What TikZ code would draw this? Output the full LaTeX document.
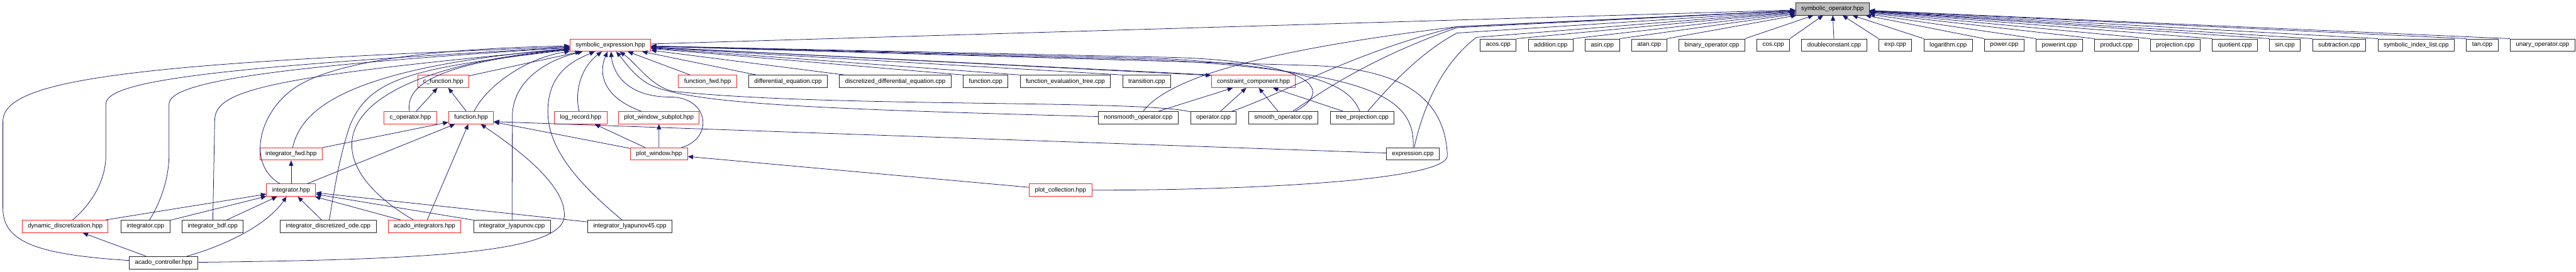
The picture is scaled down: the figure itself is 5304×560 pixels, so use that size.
\documentclass[tikz,border=0pt]{standalone}
\usepackage{fontspec}
\setmainfont{Liberation Sans}
\usepackage{xcolor}
\usepackage{tikz}
\usetikzlibrary{positioning,arrows.meta}
\definecolor{edgeblue}{HTML}{191970}
\definecolor{boxred}{HTML}{FF2020}

\begin{document}
\begin{tikzpicture}[>={Triangle[length=11pt,width=9pt]}, x=1pt, y=-1pt,
  every node/.style={font=\fontsize{12.75}{14}\selectfont, inner xsep=11.5pt, inner ysep=0pt, minimum height=25.5pt, line width=1.2pt},
  cppbox/.style={draw=black!85},
  hppbox/.style={draw=boxred},
  rootbox/.style={draw=black!85, fill=black!25},
  incl/.style={->, edgeblue, line width=1pt}]
  \useasboundingbox (0,0) rectangle (5304,560);

  \node[rootbox] (SO) at (3773,18.3) {symbolic\_operator.hpp};

  \node[hppbox] (SE) at (1256.8,93) {symbolic\_expression.hpp};
  \node[cppbox] (cacos) at (3084.8,93) {acos.cpp};
  \node[cppbox, right=24pt of cacos] (caddn) {addition.cpp};
  \node[cppbox, right=24pt of caddn] (casin) {asin.cpp};
  \node[cppbox, right=24pt of casin] (catan) {atan.cpp};
  \node[cppbox, right=24pt of catan] (cbinop) {binary\_operator.cpp};
  \node[cppbox, right=24pt of cbinop] (ccos) {cos.cpp};
  \node[cppbox, right=24pt of ccos] (cdconst) {doubleconstant.cpp};
  \node[cppbox, right=24pt of cdconst] (cexp) {exp.cpp};
  \node[cppbox, right=24pt of cexp] (clog) {logarithm.cpp};
  \node[cppbox, right=24pt of clog] (cpow) {power.cpp};
  \node[cppbox, right=24pt of cpow] (cpowint) {powerint.cpp};
  \node[cppbox, right=24pt of cpowint] (cprod) {product.cpp};
  \node[cppbox, right=24pt of cprod] (cproj) {projection.cpp};
  \node[cppbox, right=24pt of cproj] (cquot) {quotient.cpp};
  \node[cppbox, right=24pt of cquot] (csin) {sin.cpp};
  \node[cppbox, right=24pt of csin] (csub) {subtraction.cpp};
  \node[cppbox, right=24pt of csub] (csil) {symbolic\_index\_list.cpp};
  \node[cppbox, right=24pt of csil] (ctan) {tan.cpp};
  \node[cppbox, right=24pt of ctan] (cunop) {unary\_operator.cpp};

  \node[hppbox] (CF) at (912.8,167.8) {c\_function.hpp};
  \node[hppbox] (FF) at (1456.8,167.8) {function\_fwd.hpp};
  \node[cppbox, right=24pt of FF] (DE) {differential\_equation.cpp};
  \node[cppbox, right=24pt of DE] (DDE) {discretized\_differential\_equation.cpp};
  \node[cppbox, right=24pt of DDE] (FC) {function.cpp};
  \node[cppbox, right=24pt of FC] (FET) {function\_evaluation\_tree.cpp};
  \node[cppbox, right=24pt of FET] (TR) {transition.cpp};
  \node[hppbox] (CC) at (2580.8,167.8) {constraint\_component.hpp};

  \node[hppbox] (COP) at (845,242.5) {c\_operator.hpp};
  \node[hppbox] (FH) at (970,242.5) {function.hpp};
  \node[hppbox] (LR) at (1195.6,242.5) {log\_record.hpp};
  \node[hppbox] (PWS) at (1356.7,242.5) {plot\_window\_subplot.hpp};
  \node[cppbox] (NS) at (2343.5,242.5) {nonsmooth\_operator.cpp};
  \node[cppbox] (OP) at (2498.4,242.5) {operator.cpp};
  \node[cppbox] (SM) at (2642.3,242.5) {smooth\_operator.cpp};
  \node[cppbox] (TP) at (2804.9,242.5) {tree\_projection.cpp};

  \node[hppbox] (IF) at (599.4,317.3) {integrator\_fwd.hpp};
  \node[hppbox] (PW) at (1356.9,317.3) {plot\_window.hpp};
  \node[cppbox] (EX) at (2909,317.3) {expression.cpp};

  \node[hppbox] (IH) at (599.4,392) {integrator.hpp};
  \node[hppbox] (PC) at (2183.7,392) {plot\_collection.hpp};

  \node[hppbox] (DD) at (134.2,466.7) {dynamic\_discretization.hpp};
  \node[cppbox] (IC) at (299.5,466.7) {integrator.cpp};
  \node[cppbox] (IB) at (438,466.7) {integrator\_bdf.cpp};
  \node[cppbox] (IDO) at (675.8,466.7) {integrator\_discretized\_ode.cpp};
  \node[hppbox] (AI) at (874,466.7) {acado\_integrators.hpp};
  \node[cppbox] (IL) at (1054.2,466.7) {integrator\_lyapunov.cpp};
  \node[cppbox] (IL45) at (1296.9,466.7) {integrator\_lyapunov45.cpp};

  \node[cppbox] (AC) at (337,541.5) {acado\_controller.hpp};

  \draw[incl] (SE) -- (SO);
  \draw[incl] (cacos.north east) -- (SO);
  \draw[incl] (caddn.north east) -- (SO);
  \draw[incl] (casin.north east) -- (SO);
  \draw[incl] (catan.north east) -- (SO);
  \draw[incl] (cbinop.north east) -- (SO);
  \draw[incl] (ccos.north east) -- (SO);
  \draw[incl] (cdconst) -- (SO);
  \draw[incl] (cexp.north west) -- (SO);
  \draw[incl] (clog.north west) -- (SO);
  \draw[incl] (cpow.north west) -- (SO);
  \draw[incl] (cpowint.north west) -- (SO);
  \draw[incl] (cprod.north west) -- (SO);
  \draw[incl] (cproj.north west) -- (SO);
  \draw[incl] (cquot.north west) -- (SO);
  \draw[incl] (csin.north west) -- (SO);
  \draw[incl] (csub.north west) -- (SO);
  \draw[incl] (csil.north west) -- (SO);
  \draw[incl] (ctan.north west) -- (SO);
  \draw[incl] (cunop.north west) -- (SO);
  \draw[incl] (NS) .. controls (2400,170) and (2550,110) .. (3000,55) -- (SO);
  \draw[incl] (OP) .. controls (2650,190) and (2780,110) .. (3000,55) -- (SO);
  \draw[incl] (SM) .. controls (2720,190) and (2820,120) .. (3000,57) -- (SO);
  \draw[incl] (TP) .. controls (2850,190) and (2920,110) .. (3000,68) -- (SO);
  \draw[incl] (EX) .. controls (2930,220) and (2970,130) .. (3040,77) -- (SO);

  \draw[incl] (AC) .. controls (80,525) and (6,500) .. (6,430) -- (6,250) .. controls (6,160) and (300,130) .. (SE);
  \draw[incl] (DD) .. controls (200,410) and (218,360) .. (218,320) -- (218,215) .. controls (218,170) and (400,140) .. (SE);
  \draw[incl] (IC) .. controls (335,410) and (348,360) .. (348,320) -- (348,215) .. controls (348,175) and (500,140) .. (SE);
  \draw[incl] (IB) -- (442,250) .. controls (442,190) and (520,160) .. (SE);
  \draw[incl] (IH) .. controls (510,340) and (530,240) .. (600,186) .. controls (680,125) and (900,100) .. (SE);
  \draw[incl] (IF) .. controls (620,230) and (700,140) .. (SE);
  \draw[incl] (IDO) .. controls (690,380) and (700,320) .. (720,260) .. controls (760,160) and (850,140) .. (SE);
  \draw[incl] (AI) .. controls (640,330) and (660,150) .. (SE);
  \draw[incl] (COP) .. controls (835,175) and (900,130) .. (SE);
  \draw[incl] (CF) -- (SE);
  \draw[incl] (FH) .. controls (1000,180) and (1080,120) .. (SE);
  \draw[incl] (IL) -- (1055,240) .. controls (1055,170) and (1120,125) .. (SE);
  \draw[incl] (IL45) .. controls (1180,370) and (1128,300) .. (1128,230) .. controls (1128,150) and (1180,125) .. (SE);
  \draw[incl] (LR) .. controls (1183,190) and (1195,140) .. (SE);
  \draw[incl] (PWS) .. controls (1240,200) and (1232,150) .. (SE);
  \draw[incl] (PW) .. controls (1470,285) and (1460,200) .. (1380,200) .. controls (1290,200) and (1262,150) .. (SE);
  \draw[incl] (PC) .. controls (2600,392) and (2985,370) .. (2980,320) .. controls (2975,180) and (2850,140) .. (2700,135) -- (SE);
  \draw[incl] (FF) -- (SE);
  \draw[incl] (DE) -- (SE);
  \draw[incl] (DDE) -- (SE);
  \draw[incl] (FC.north west) -- (SE);
  \draw[incl] (FET.north west) -- (SE);
  \draw[incl] (TR.north west) -- (SE);
  \draw[incl] (CC.north west) -- (SE);
  \draw[incl] (SE) -- (CC.172);
  \draw[incl] (NS) .. controls (1700,225) and (1400,215) .. (1330,170) .. controls (1300,150) and (1285,125) .. (SE);
  \draw[incl] (OP) .. controls (2350,205) and (1700,222) .. (1385,188) .. controls (1340,178) and (1310,130) .. (SE);
  \draw[incl] (SM) .. controls (2750,185) and (2700,125) .. (2400,118) -- (SE);
  \draw[incl] (TP) .. controls (2780,180) and (2720,140) .. (2400,121) -- (SE);
  \draw[incl] (EX) .. controls (2915,200) and (2820,150) .. (2400,124) -- (SE);

  \draw[incl] (NS) -- (CC);
  \draw[incl] (OP) -- (CC);
  \draw[incl] (SM) -- (CC);
  \draw[incl] (TP) -- (CC);

  \draw[incl] (COP) -- (CF);
  \draw[incl] (FH) -- (CF);

  \draw[incl] (IF) -- (FH);
  \draw[incl] (IH) -- (FH);
  \draw[incl] (AI) -- (FH);
  \draw[incl] (PW) -- (FH);
  \draw[incl] (EX) -- (FH.-10);
  \draw[incl] (AC) .. controls (900,535) and (1170,520) .. (1162,440) .. controls (1160,380) and (1070,310) .. (FH);

  \draw[incl] (IH) -- (IF);
  \draw[incl] (DD) -- (IH);
  \draw[incl] (IC) -- (IH);
  \draw[incl] (IB) -- (IH);
  \draw[incl] (IDO) -- (IH);
  \draw[incl] (AI) -- (IH);
  \draw[incl] (IL) -- (IH);
  \draw[incl] (IL45) -- (IH);
  \draw[incl] (AC) .. controls (450,510) and (545,470) .. (IH);
  \draw[incl] (AC) -- (DD);

  \draw[incl] (PW) -- (LR);
  \draw[incl] (PW) -- (PWS);
  \draw[incl] (PC) -- (PW);
\end{tikzpicture}
\end{document}
